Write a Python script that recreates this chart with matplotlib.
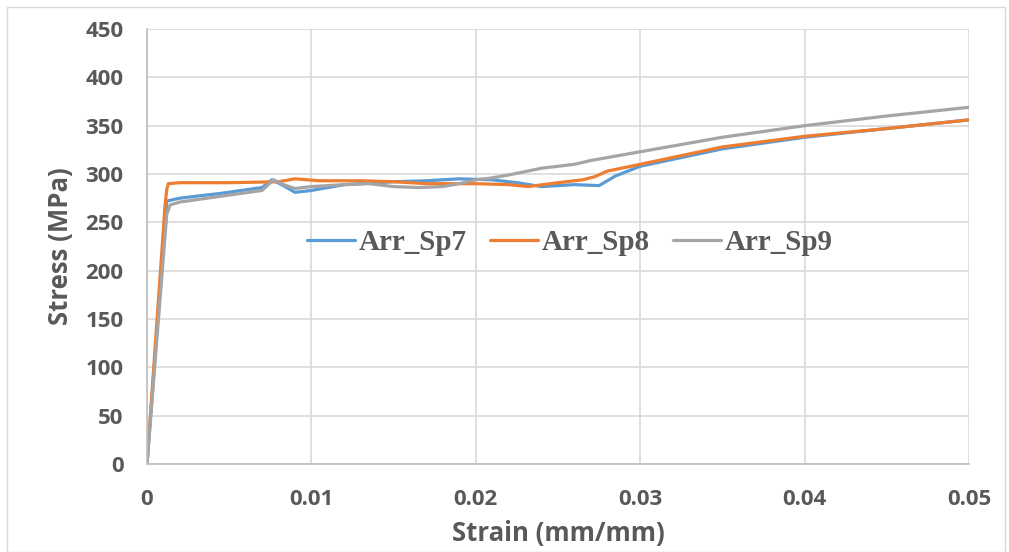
import matplotlib
matplotlib.use("Agg")
import matplotlib.pyplot as plt
from matplotlib.patches import Rectangle

# Data
sp7_x = [0, 0.0012, 0.0020, 0.0045, 0.0070, 0.0076, 0.0083, 0.0090, 0.0100, 0.0120, 0.0150, 0.0170, 0.0190, 0.0210, 0.0225, 0.0240, 0.0260, 0.0275, 0.0285, 0.0300, 0.0350, 0.0400, 0.0450, 0.0500]
sp7_y = [0, 272, 275, 280, 286, 294, 288, 281, 283, 289, 292, 293, 295, 294, 291, 287, 289, 288, 298, 308, 326, 338, 347, 356]

sp8_x = [0, 0.0011, 0.0012, 0.0013, 0.0020, 0.0050, 0.0080, 0.0090, 0.0105, 0.0130, 0.0150, 0.0170, 0.0200, 0.0220, 0.0232, 0.0250, 0.0265, 0.0272, 0.0280, 0.0300, 0.0350, 0.0400, 0.0450, 0.0500]
sp8_y = [0, 268, 284, 290, 291, 291, 292, 295, 293, 293, 292, 290, 290, 289, 287, 291, 294, 297, 303, 310, 328, 339, 347, 356]

sp9_x = [0, 0.0012, 0.0014, 0.0020, 0.0045, 0.0070, 0.0077, 0.0083, 0.0090, 0.0100, 0.0120, 0.0135, 0.0150, 0.0165, 0.0180, 0.0190, 0.0200, 0.0210, 0.0220, 0.0240, 0.0255, 0.0260, 0.0270, 0.0300, 0.0350, 0.0400, 0.0450, 0.0500]
sp9_y = [0, 258, 268, 271, 277, 283, 294, 289, 285, 287, 289, 290, 287, 286, 287, 290, 294, 296, 299, 306, 309, 310, 314, 323, 338, 350, 360, 369]

series = [("Arr_Sp7", sp7_x, sp7_y, "#5B9BD5"),
          ("Arr_Sp8", sp8_x, sp8_y, "#ED7D31"),
          ("Arr_Sp9", sp9_x, sp9_y, "#A5A5A5")]

x_ticks = [0, 0.01, 0.02, 0.03, 0.04, 0.05]
x_tick_labels = ["0", "0.01", "0.02", "0.03", "0.04", "0.05"]
y_ticks = list(range(0, 451, 50))

fig = plt.figure(figsize=(10.09, 5.52), dpi=100)
fig.patches.append(Rectangle((7/1009, 0), 998/1009, 1 - 7/552, transform=fig.transFigure,
                             fill=False, edgecolor="#d9d9d9", linewidth=1))
ax = fig.add_axes([147/1009, 1 - 464/552, (969 - 147)/1009, (464 - 29)/552])

for name, xs, ys, c in series:
    ax.plot(xs, ys, color=c, linewidth=2.3, label=name, solid_capstyle="round", solid_joinstyle="round")

ax.set_xlim(0, 0.05)
ax.set_ylim(0, 450)
ax.set_xticks(x_ticks)
ax.set_xticklabels(x_tick_labels)
ax.set_yticks(y_ticks)
ax.grid(True, color="#d9d9d9", linewidth=1.2)
ax.set_axisbelow(True)
for s in ["top", "right"]:
    ax.spines[s].set_visible(False)
for s in ["left", "bottom"]:
    ax.spines[s].set_color("#bfbfbf")
    ax.spines[s].set_linewidth(1.2)
ax.tick_params(axis="y", length=0, pad=17, labelsize=16, labelcolor="#595959")
ax.tick_params(axis="x", length=0, pad=18, labelsize=16, labelcolor="#595959")
for lab in ax.get_xticklabels() + ax.get_yticklabels():
    lab.set_fontweight("bold")
    lab.set_family("Open Sans")

ax.set_xlabel("Strain (mm/mm)", fontsize=18.5, fontweight="bold", color="#595959", family="Open Sans", labelpad=7)
ax.set_ylabel("Stress (MPa)", fontsize=18.5, fontweight="bold", color="#595959", family="Open Sans", labelpad=8)

leg = ax.legend(loc="center", bbox_to_anchor=((570 - 147) / 822, (464 - 243) / 435), ncol=3, frameon=False,
                prop={"family": "Liberation Serif", "weight": "bold", "size": 21},
                handlelength=1.65, handletextpad=0.12, columnspacing=0.8)
for t in leg.get_texts():
    t.set_color("#595959")

fig.savefig("out.png", dpi=100)
